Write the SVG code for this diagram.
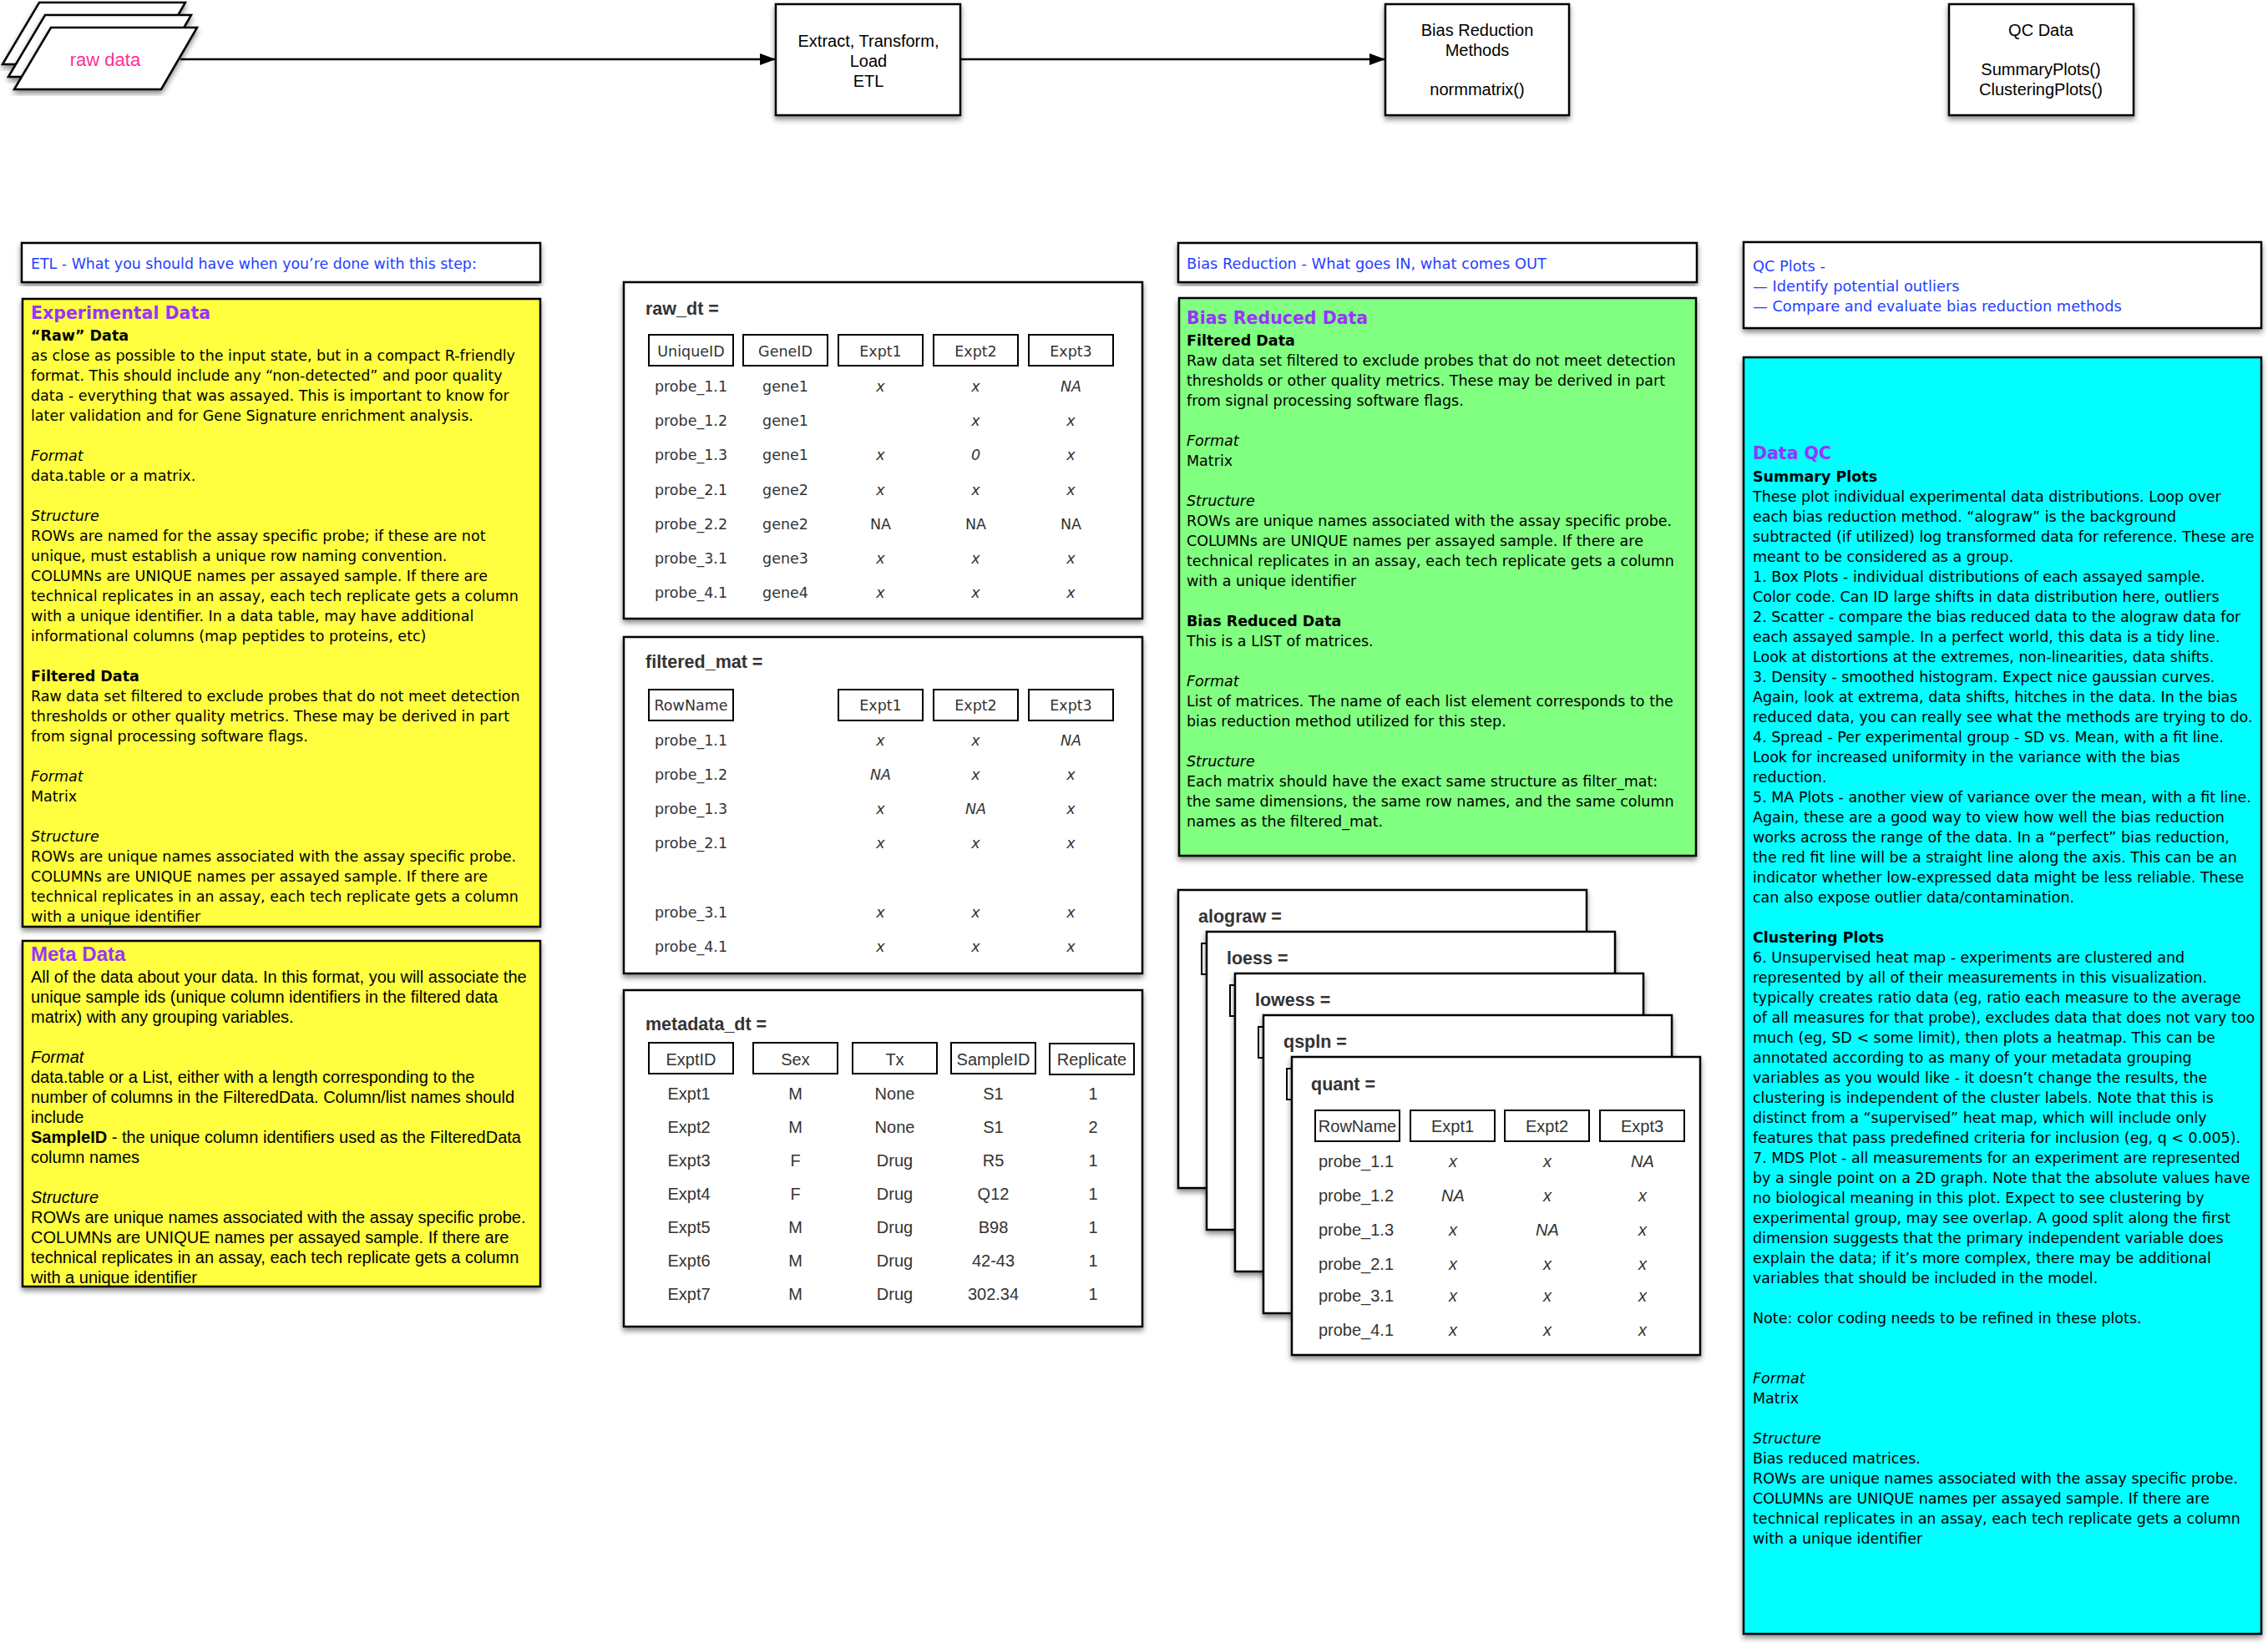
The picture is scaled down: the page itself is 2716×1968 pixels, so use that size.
<svg xmlns="http://www.w3.org/2000/svg" width="2716" height="1968" viewBox="0 0 2716 1968">
<defs>
<filter id="sh" x="-5%" y="-5%" width="112%" height="115%">
<feDropShadow dx="0" dy="4" stdDeviation="3" flood-color="#000" flood-opacity="0.45"/>
</filter>
<marker id="ah" markerUnits="userSpaceOnUse" markerWidth="20" markerHeight="14" refX="19" refY="7" orient="auto">
<path d="M0,0 L19,7 L0,14 z" fill="#000"/>
</marker>
<style>
.box{fill:#fff;stroke:#000;stroke-width:2.5;filter:url(#sh)}
.hb{fill:#fff;stroke:#000;stroke-width:2}
.yel{fill:#FFFF40;stroke:#000;stroke-width:2.5;filter:url(#sh)}
.grn{fill:#80FF80;stroke:#000;stroke-width:2.5;filter:url(#sh)}
.cyn{fill:#00FFFF;stroke:#000;stroke-width:2.5;filter:url(#sh)}
.conn{fill:none;stroke:#000;stroke-width:2.5;marker-end:url(#ah)}
.hv{font-family:"Liberation Sans",Arial,Helvetica,sans-serif;font-size:20px;fill:#000}
.lg{font-family:"DejaVu Sans",Verdana,sans-serif;font-size:17.5px;fill:#000}
.blue{font-family:"DejaVu Sans",Verdana,sans-serif;font-size:17.8px;fill:#1F3FFF}
.ttl{font-family:"DejaVu Sans",Verdana,sans-serif;font-size:20.5px;font-weight:bold;fill:#9933FF}
.ttlh{font-family:"Liberation Sans",Arial,sans-serif;font-size:24px;font-weight:bold;fill:#9933FF}
.b{font-weight:bold}
.i{font-style:italic}
.c{text-anchor:middle}
.cl{font-family:"DejaVu Sans",Verdana,sans-serif;font-size:17.5px;fill:#333;text-anchor:middle}
.ch{font-family:"Liberation Sans",Arial,sans-serif;font-size:20px;fill:#333;text-anchor:middle}
.tn{font-family:"Liberation Sans",Arial,sans-serif;font-size:21.5px;font-weight:bold;fill:#333}
.pink{font-family:"Liberation Sans",Arial,sans-serif;font-size:22px;fill:#FF2E93;text-anchor:middle}
</style>
</defs>
<rect width="2716" height="1968" fill="#fff"/>

<g id="connectors">
<path class="conn" d="M216,71 L929,71"/>
<path class="conn" d="M1150,71 L1659,71"/>
</g>

<g id="raw-data">
<polygon class="box" points="47,3 222,3 179,77 3,77"/>
<polygon class="box" points="54,18 229,18 186,92 10,92"/>
<polygon class="box" points="61,33 236,33 193,107 17,107"/>
<text class="pink" x="126" y="79">raw data</text>
</g>

<g id="etl">
<rect class="box" x="929" y="5" width="221" height="133"/>
<text class="hv c" x="1040" y="56">Extract, Transform,</text>
<text class="hv c" x="1040" y="80">Load</text>
<text class="hv c" x="1040" y="104">ETL</text>
</g>

<g id="bias-reduction">
<rect class="box" x="1659" y="5" width="220" height="133"/>
<text class="hv c" x="1769" y="43">Bias Reduction</text>
<text class="hv c" x="1769" y="67">Methods</text>
<text class="hv c" x="1769" y="114">normmatrix()</text>
</g>

<g id="qc-data">
<rect class="box" x="2334" y="5" width="221" height="133"/>
<text class="hv c" x="2444" y="43">QC Data</text>
<text class="hv c" x="2444" y="90">SummaryPlots()</text>
<text class="hv c" x="2444" y="114">ClusteringPlots()</text>
</g>

<g id="etl-header">
<rect class="box" x="26" y="291" width="621" height="47"/>
<text class="blue" x="37" y="322" style="font-size:17.4px">ETL - What you should have when you’re done with this step:</text>
</g>

<g id="experimental-data">
<rect class="yel" x="27" y="358" width="620" height="752"/>
<text class="ttl" x="37" y="382">Experimental Data</text>
<text class="lg" x="37" y="408"><tspan class="b">“Raw” Data</tspan>
<tspan x="37" dy="24">as close as possible to the input state, but in a compact R-friendly</tspan>
<tspan x="37" dy="24">format. This should include any “non-detected” and poor quality</tspan>
<tspan x="37" dy="24">data - everything that was assayed. This is important to know for</tspan>
<tspan x="37" dy="24">later validation and for Gene Signature enrichment analysis.</tspan>
<tspan x="37" dy="48" class="i">Format</tspan>
<tspan x="37" dy="24">data.table or a matrix.</tspan>
<tspan x="37" dy="48" class="i">Structure</tspan>
<tspan x="37" dy="24">ROWs are named for the assay specific probe; if these are not</tspan>
<tspan x="37" dy="24">unique, must establish a unique row naming convention.</tspan>
<tspan x="37" dy="24">COLUMNs are UNIQUE names per assayed sample. If there are</tspan>
<tspan x="37" dy="24">technical replicates in an assay, each tech replicate gets a column</tspan>
<tspan x="37" dy="24">with a unique identifier. In a data table, may have additional</tspan>
<tspan x="37" dy="24">informational columns (map peptides to proteins, etc)</tspan>
<tspan x="37" dy="48" class="b">Filtered Data</tspan>
<tspan x="37" dy="24">Raw data set filtered to exclude probes that do not meet detection</tspan>
<tspan x="37" dy="24">thresholds or other quality metrics. These may be derived in part</tspan>
<tspan x="37" dy="24">from signal processing software flags.</tspan>
<tspan x="37" dy="48" class="i">Format</tspan>
<tspan x="37" dy="24">Matrix</tspan>
<tspan x="37" dy="48" class="i">Structure</tspan>
<tspan x="37" dy="24">ROWs are unique names associated with the assay specific probe.</tspan>
<tspan x="37" dy="24">COLUMNs are UNIQUE names per assayed sample. If there are</tspan>
<tspan x="37" dy="24">technical replicates in an assay, each tech replicate gets a column</tspan>
<tspan x="37" dy="24">with a unique identifier</tspan></text>
</g>

<g id="meta-data">
<rect class="yel" x="27" y="1127" width="620" height="414"/>
<text class="ttlh" x="37" y="1151">Meta Data</text>
<text class="hv" x="37" y="1177">All of the data about your data. In this format, you will associate the
<tspan x="37" dy="24">unique sample ids (unique column identifiers in the filtered data</tspan>
<tspan x="37" dy="24">matrix) with any grouping variables.</tspan>
<tspan x="37" dy="48" class="i">Format</tspan>
<tspan x="37" dy="24">data.table or a List, either with a length corresponding to the</tspan>
<tspan x="37" dy="24">number of columns in the FilteredData. Column/list names should</tspan>
<tspan x="37" dy="24">include</tspan>
<tspan x="37" dy="24" class="b">SampleID</tspan><tspan> - the unique column identifiers used as the FilteredData</tspan>
<tspan x="37" dy="24">column names</tspan>
<tspan x="37" dy="48" class="i">Structure</tspan>
<tspan x="37" dy="24">ROWs are unique names associated with the assay specific probe.</tspan>
<tspan x="37" dy="24">COLUMNs are UNIQUE names per assayed sample. If there are</tspan>
<tspan x="37" dy="24">technical replicates in an assay, each tech replicate gets a column</tspan>
<tspan x="37" dy="24">with a unique identifier</tspan></text>
</g>

<g id="raw-dt">
<rect class="box" x="747" y="338" width="621" height="403"/>
<text class="tn" x="773" y="377">raw_dt =</text>
<rect class="hb" x="777" y="401" width="101" height="37"/>
<rect class="hb" x="890" y="401" width="101" height="37"/>
<rect class="hb" x="1004" y="401" width="101" height="37"/>
<rect class="hb" x="1118" y="401" width="101" height="37"/>
<rect class="hb" x="1232" y="401" width="101" height="37"/>
<text class="cl" y="427"><tspan x="827.5">UniqueID</tspan><tspan x="940.5">GeneID</tspan><tspan x="1054.5">Expt1</tspan><tspan x="1168.5">Expt2</tspan><tspan x="1282.5">Expt3</tspan></text>
<text class="cl" y="469"><tspan x="827.5">probe_1.1</tspan><tspan x="940.5">gene1</tspan><tspan x="1054.5" class="i">x</tspan><tspan x="1168.5" class="i">x</tspan><tspan x="1282.5" class="i">NA</tspan></text>
<text class="cl" y="510"><tspan x="827.5">probe_1.2</tspan><tspan x="940.5">gene1</tspan><tspan x="1168.5" class="i">x</tspan><tspan x="1282.5" class="i">x</tspan></text>
<text class="cl" y="551"><tspan x="827.5">probe_1.3</tspan><tspan x="940.5">gene1</tspan><tspan x="1054.5" class="i">x</tspan><tspan x="1168.5" class="i">0</tspan><tspan x="1282.5" class="i">x</tspan></text>
<text class="cl" y="593"><tspan x="827.5">probe_2.1</tspan><tspan x="940.5">gene2</tspan><tspan x="1054.5" class="i">x</tspan><tspan x="1168.5" class="i">x</tspan><tspan x="1282.5" class="i">x</tspan></text>
<text class="cl" y="634"><tspan x="827.5">probe_2.2</tspan><tspan x="940.5">gene2</tspan><tspan x="1054.5">NA</tspan><tspan x="1168.5">NA</tspan><tspan x="1282.5">NA</tspan></text>
<text class="cl" y="675"><tspan x="827.5">probe_3.1</tspan><tspan x="940.5">gene3</tspan><tspan x="1054.5" class="i">x</tspan><tspan x="1168.5" class="i">x</tspan><tspan x="1282.5" class="i">x</tspan></text>
<text class="cl" y="716"><tspan x="827.5">probe_4.1</tspan><tspan x="940.5">gene4</tspan><tspan x="1054.5" class="i">x</tspan><tspan x="1168.5" class="i">x</tspan><tspan x="1282.5" class="i">x</tspan></text>
</g>

<g id="filtered-mat">
<rect class="box" x="747" y="763" width="621" height="403"/>
<text class="tn" x="773" y="800">filtered_mat =</text>
<rect class="hb" x="777" y="826" width="101" height="37"/>
<rect class="hb" x="1004" y="826" width="101" height="37"/>
<rect class="hb" x="1118" y="826" width="101" height="37"/>
<rect class="hb" x="1232" y="826" width="101" height="37"/>
<text class="cl" y="851"><tspan x="827.5">RowName</tspan><tspan x="1054.5">Expt1</tspan><tspan x="1168.5">Expt2</tspan><tspan x="1282.5">Expt3</tspan></text>
<text class="cl" y="893"><tspan x="827.5">probe_1.1</tspan><tspan x="1054.5" class="i">x</tspan><tspan x="1168.5" class="i">x</tspan><tspan x="1282.5" class="i">NA</tspan></text>
<text class="cl" y="934"><tspan x="827.5">probe_1.2</tspan><tspan x="1054.5" class="i">NA</tspan><tspan x="1168.5" class="i">x</tspan><tspan x="1282.5" class="i">x</tspan></text>
<text class="cl" y="975"><tspan x="827.5">probe_1.3</tspan><tspan x="1054.5" class="i">x</tspan><tspan x="1168.5" class="i">NA</tspan><tspan x="1282.5" class="i">x</tspan></text>
<text class="cl" y="1016"><tspan x="827.5">probe_2.1</tspan><tspan x="1054.5" class="i">x</tspan><tspan x="1168.5" class="i">x</tspan><tspan x="1282.5" class="i">x</tspan></text>
<text class="cl" y="1099"><tspan x="827.5">probe_3.1</tspan><tspan x="1054.5" class="i">x</tspan><tspan x="1168.5" class="i">x</tspan><tspan x="1282.5" class="i">x</tspan></text>
<text class="cl" y="1140"><tspan x="827.5">probe_4.1</tspan><tspan x="1054.5" class="i">x</tspan><tspan x="1168.5" class="i">x</tspan><tspan x="1282.5" class="i">x</tspan></text>
</g>

<g id="metadata-dt">
<rect class="box" x="747" y="1186" width="621" height="403"/>
<text class="tn" x="773" y="1234">metadata_dt =</text>
<rect class="hb" x="777" y="1249" width="101" height="37"/>
<rect class="hb" x="902" y="1249" width="101" height="37"/>
<rect class="hb" x="1021" y="1249" width="101" height="37"/>
<rect class="hb" x="1139" y="1249" width="101" height="37"/>
<rect class="hb" x="1257" y="1250" width="101" height="37"/>
<text class="ch" y="1276"><tspan x="827.5">ExptID</tspan><tspan x="952.5">Sex</tspan><tspan x="1071.5">Tx</tspan><tspan x="1189.5">SampleID</tspan><tspan x="1307.5">Replicate</tspan></text>
<text class="ch" y="1317"><tspan x="825">Expt1</tspan><tspan x="952.5">M</tspan><tspan x="1071.5">None</tspan><tspan x="1189.5">S1</tspan><tspan x="1309">1</tspan></text>
<text class="ch" y="1357"><tspan x="825">Expt2</tspan><tspan x="952.5">M</tspan><tspan x="1071.5">None</tspan><tspan x="1189.5">S1</tspan><tspan x="1309">2</tspan></text>
<text class="ch" y="1397"><tspan x="825">Expt3</tspan><tspan x="952.5">F</tspan><tspan x="1071.5">Drug</tspan><tspan x="1189.5">R5</tspan><tspan x="1309">1</tspan></text>
<text class="ch" y="1437"><tspan x="825">Expt4</tspan><tspan x="952.5">F</tspan><tspan x="1071.5">Drug</tspan><tspan x="1189.5">Q12</tspan><tspan x="1309">1</tspan></text>
<text class="ch" y="1477"><tspan x="825">Expt5</tspan><tspan x="952.5">M</tspan><tspan x="1071.5">Drug</tspan><tspan x="1189.5">B98</tspan><tspan x="1309">1</tspan></text>
<text class="ch" y="1517"><tspan x="825">Expt6</tspan><tspan x="952.5">M</tspan><tspan x="1071.5">Drug</tspan><tspan x="1189.5">42-43</tspan><tspan x="1309">1</tspan></text>
<text class="ch" y="1557"><tspan x="825">Expt7</tspan><tspan x="952.5">M</tspan><tspan x="1071.5">Drug</tspan><tspan x="1189.5">302.34</tspan><tspan x="1309">1</tspan></text>
</g>

<g id="bias-header">
<rect class="box" x="1411" y="291" width="621" height="47"/>
<text class="blue" x="1421" y="322">Bias Reduction - What goes IN, what comes OUT</text>
</g>

<g id="bias-reduced-data">
<rect class="grn" x="1412" y="357" width="619" height="668"/>
<text class="ttl" x="1421" y="388">Bias Reduced Data</text>
<text class="lg" x="1421" y="414"><tspan class="b">Filtered Data</tspan>
<tspan x="1421" dy="24">Raw data set filtered to exclude probes that do not meet detection</tspan>
<tspan x="1421" dy="24">thresholds or other quality metrics. These may be derived in part</tspan>
<tspan x="1421" dy="24">from signal processing software flags.</tspan>
<tspan x="1421" dy="48" class="i">Format</tspan>
<tspan x="1421" dy="24">Matrix</tspan>
<tspan x="1421" dy="48" class="i">Structure</tspan>
<tspan x="1421" dy="24">ROWs are unique names associated with the assay specific probe.</tspan>
<tspan x="1421" dy="24">COLUMNs are UNIQUE names per assayed sample. If there are</tspan>
<tspan x="1421" dy="24">technical replicates in an assay, each tech replicate gets a column</tspan>
<tspan x="1421" dy="24">with a unique identifier</tspan>
<tspan x="1421" dy="48" class="b">Bias Reduced Data</tspan>
<tspan x="1421" dy="24">This is a LIST of matrices.</tspan>
<tspan x="1421" dy="48" class="i">Format</tspan>
<tspan x="1421" dy="24">List of matrices. The name of each list element corresponds to the</tspan>
<tspan x="1421" dy="24">bias reduction method utilized for this step.</tspan>
<tspan x="1421" dy="48" class="i">Structure</tspan>
<tspan x="1421" dy="24">Each matrix should have the exact same structure as filter_mat:</tspan>
<tspan x="1421" dy="24">the same dimensions, the same row names, and the same column</tspan>
<tspan x="1421" dy="24">names as the filtered_mat.</tspan></text>
</g>

<g id="alograw">
<rect class="box" x="1411" y="1066" width="489" height="357"/>
<text class="tn" x="1435" y="1105">alograw =</text>
<rect class="hb" x="1439" y="1130" width="101" height="37"/>
</g>
<g id="loess">
<rect class="box" x="1445" y="1116" width="489" height="357"/>
<text class="tn" x="1469" y="1155">loess =</text>
<rect class="hb" x="1473" y="1180" width="101" height="37"/>
</g>
<g id="lowess">
<rect class="box" x="1479" y="1166" width="489" height="357"/>
<text class="tn" x="1503" y="1205">lowess =</text>
<rect class="hb" x="1507" y="1230" width="101" height="37"/>
</g>
<g id="qspln">
<rect class="box" x="1513" y="1216" width="489" height="357"/>
<text class="tn" x="1537" y="1255">qspln =</text>
<rect class="hb" x="1541" y="1280" width="101" height="37"/>
</g>
<g id="quant">
<rect class="box" x="1547" y="1266" width="489" height="357"/>
<text class="tn" x="1570" y="1306">quant =</text>
<rect class="hb" x="1575" y="1330" width="101" height="37"/>
<rect class="hb" x="1689" y="1330" width="101" height="37"/>
<rect class="hb" x="1802" y="1330" width="101" height="37"/>
<rect class="hb" x="1916" y="1330" width="101" height="37"/>
<text class="ch" y="1356"><tspan x="1625.5">RowName</tspan><tspan x="1739.5">Expt1</tspan><tspan x="1852.5">Expt2</tspan><tspan x="1966.5">Expt3</tspan></text>
<text class="ch" y="1398"><tspan x="1624">probe_1.1</tspan><tspan x="1740" class="i">x</tspan><tspan x="1853" class="i">x</tspan><tspan x="1967" class="i">NA</tspan></text>
<text class="ch" y="1439"><tspan x="1624">probe_1.2</tspan><tspan x="1740" class="i">NA</tspan><tspan x="1853" class="i">x</tspan><tspan x="1967" class="i">x</tspan></text>
<text class="ch" y="1480"><tspan x="1624">probe_1.3</tspan><tspan x="1740" class="i">x</tspan><tspan x="1853" class="i">NA</tspan><tspan x="1967" class="i">x</tspan></text>
<text class="ch" y="1521"><tspan x="1624">probe_2.1</tspan><tspan x="1740" class="i">x</tspan><tspan x="1853" class="i">x</tspan><tspan x="1967" class="i">x</tspan></text>
<text class="ch" y="1559"><tspan x="1624">probe_3.1</tspan><tspan x="1740" class="i">x</tspan><tspan x="1853" class="i">x</tspan><tspan x="1967" class="i">x</tspan></text>
<text class="ch" y="1600"><tspan x="1624">probe_4.1</tspan><tspan x="1740" class="i">x</tspan><tspan x="1853" class="i">x</tspan><tspan x="1967" class="i">x</tspan></text>
</g>

<g id="qc-header">
<rect class="box" x="2088" y="290" width="620" height="103"/>
<text class="blue" x="2099" y="325">QC Plots -
<tspan x="2099" dy="24">— Identify potential outliers</tspan>
<tspan x="2099" dy="24">— Compare and evaluate bias reduction methods</tspan></text>
</g>

<g id="data-qc">
<rect class="cyn" x="2088" y="428" width="620" height="1529"/>
<text class="ttl" x="2099" y="550">Data QC</text>
<text class="lg" x="2099" y="577"><tspan class="b">Summary Plots</tspan>
<tspan x="2099" dy="24">These plot individual experimental data distributions. Loop over</tspan>
<tspan x="2099" dy="24">each bias reduction method. “alograw” is the background</tspan>
<tspan x="2099" dy="24">subtracted (if utilized) log transformed data for reference. These are</tspan>
<tspan x="2099" dy="24">meant to be considered as a group.</tspan>
<tspan x="2099" dy="24">1. Box Plots - individual distributions of each assayed sample.</tspan>
<tspan x="2099" dy="24">Color code. Can ID large shifts in data distribution here, outliers</tspan>
<tspan x="2099" dy="24">2. Scatter - compare the bias reduced data to the alograw data for</tspan>
<tspan x="2099" dy="24">each assayed sample. In a perfect world, this data is a tidy line.</tspan>
<tspan x="2099" dy="24">Look at distortions at the extremes, non-linearities, data shifts.</tspan>
<tspan x="2099" dy="24">3. Density - smoothed histogram. Expect nice gaussian curves.</tspan>
<tspan x="2099" dy="24">Again, look at extrema, data shifts, hitches in the data. In the bias</tspan>
<tspan x="2099" dy="24">reduced data, you can really see what the methods are trying to do.</tspan>
<tspan x="2099" dy="24">4. Spread - Per experimental group - SD vs. Mean, with a fit line.</tspan>
<tspan x="2099" dy="24">Look for increased uniformity in the variance with the bias</tspan>
<tspan x="2099" dy="24">reduction.</tspan>
<tspan x="2099" dy="24">5. MA Plots - another view of variance over the mean, with a fit line.</tspan>
<tspan x="2099" dy="24">Again, these are a good way to view how well the bias reduction</tspan>
<tspan x="2099" dy="24">works across the range of the data. In a “perfect” bias reduction,</tspan>
<tspan x="2099" dy="24">the red fit line will be a straight line along the axis. This can be an</tspan>
<tspan x="2099" dy="24">indicator whether low-expressed data might be less reliable. These</tspan>
<tspan x="2099" dy="24">can also expose outlier data/contamination.</tspan>
<tspan x="2099" dy="48" class="b">Clustering Plots</tspan>
<tspan x="2099" dy="24">6. Unsupervised heat map - experiments are clustered and</tspan>
<tspan x="2099" dy="24">represented by all of their measurements in this visualization.</tspan>
<tspan x="2099" dy="24">typically creates ratio data (eg, ratio each measure to the average</tspan>
<tspan x="2099" dy="24">of all measures for that probe), excludes data that does not vary too</tspan>
<tspan x="2099" dy="24">much (eg, SD &lt; some limit), then plots a heatmap. This can be</tspan>
<tspan x="2099" dy="24">annotated according to as many of your metadata grouping</tspan>
<tspan x="2099" dy="24">variables as you would like - it doesn’t change the results, the</tspan>
<tspan x="2099" dy="24">clustering is independent of the cluster labels. Note that this is</tspan>
<tspan x="2099" dy="24">distinct from a “supervised” heat map, which will include only</tspan>
<tspan x="2099" dy="24">features that pass predefined criteria for inclusion (eg, q &lt; 0.005).</tspan>
<tspan x="2099" dy="24">7. MDS Plot - all measurements for an experiment are represented</tspan>
<tspan x="2099" dy="24">by a single point on a 2D graph. Note that the absolute values have</tspan>
<tspan x="2099" dy="24">no biological meaning in this plot. Expect to see clustering by</tspan>
<tspan x="2099" dy="24">experimental group, may see overlap. A good split along the first</tspan>
<tspan x="2099" dy="24">dimension suggests that the primary independent variable does</tspan>
<tspan x="2099" dy="24">explain the data; if it’s more complex, there may be additional</tspan>
<tspan x="2099" dy="24">variables that should be included in the model.</tspan>
<tspan x="2099" dy="48">Note: color coding needs to be refined in these plots.</tspan>
<tspan x="2099" dy="72" class="i">Format</tspan>
<tspan x="2099" dy="24">Matrix</tspan>
<tspan x="2099" dy="48" class="i">Structure</tspan>
<tspan x="2099" dy="24">Bias reduced matrices.</tspan>
<tspan x="2099" dy="24">ROWs are unique names associated with the assay specific probe.</tspan>
<tspan x="2099" dy="24">COLUMNs are UNIQUE names per assayed sample. If there are</tspan>
<tspan x="2099" dy="24">technical replicates in an assay, each tech replicate gets a column</tspan>
<tspan x="2099" dy="24">with a unique identifier</tspan></text>
</g>
</svg>
